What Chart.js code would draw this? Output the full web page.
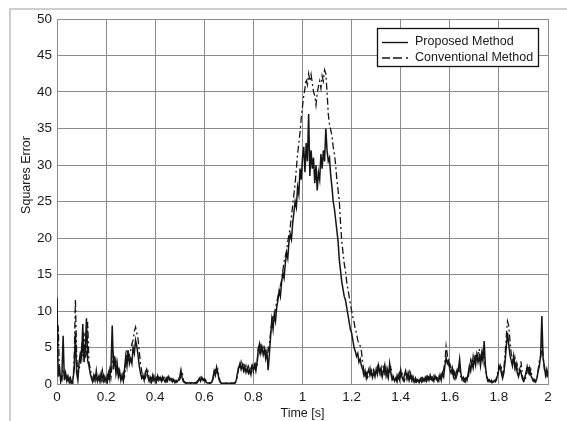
<!DOCTYPE html>
<html>
<head>
<meta charset="utf-8">
<script src="https://cdn.jsdelivr.net/npm/chart.js@4.4.1/dist/chart.umd.min.js"></script>
<style>
  html, body { margin: 0; padding: 0; background: #fff; overflow: hidden; }
  #moldura {
    position: absolute; left: 9px; top: 8px; width: 700px; height: 600px;
    border: 2px solid #cfcfcf;
  }
  #grafico { position: absolute; left: 0; top: 0; }
</style>
</head>
<body>
<div id="moldura"></div>
<canvas id="grafico" width="567" height="421"></canvas>
<script>
// amostragem do erro quadratico (passo de 5 ms, de 0 a 2 s)
const tempoInicial = 0;
const passo = 0.005;

const metodoProposto = [
  11.8, 1.0, 2.5, 0.3, 1.2, 6.6, 0.5, 1.5, 0.4, 1.0, 0.2, 0.8, 0.1, 0.6, 2.0, 7.0, 1.5, 0.5, 3.0, 4.2,
  3.5, 8.2, 3.0, 4.5, 9.0, 3.2, 2.5, 1.5, 0.8, 0.3, 1.2, 0.5, 1.8, 0.4, 1.0, 0.3, 1.5, 0.6, 1.2, 0.4,
  0.8, 0.3, 1.5, 0.6, 2.5, 8.0, 2.0, 3.8, 1.5, 2.8, 1.0, 1.8, 0.5, 1.2, 0.4, 2.0, 3.8, 2.5, 4.6, 2.8,
  3.5, 2.8, 5.0, 4.2, 6.0, 5.2, 4.0, 2.5, 1.5, 0.8, 1.2, 0.5, 1.6, 2.0, 1.0, 0.4, 0.9, 0.3, 1.2, 0.5,
  0.8, 0.3, 1.1, 0.5, 0.9, 0.4, 1.0, 0.6, 0.3, 0.8, 0.4, 1.0, 0.5, 0.7, 0.3, 0.6, 0.2, 0.5, 0.3, 0.6,
  1.0, 1.9, 0.8, 0.3, 0.2, 0.1, 0.2, 0.1, 0.2, 0.1, 0.2, 0.1, 0.2, 0.1, 0.3, 0.5, 0.8, 0.4, 0.9, 0.5,
  0.7, 0.3, 0.2, 0.1, 0.2, 0.1, 0.2, 0.8, 1.8, 1.2, 2.3, 1.5, 0.6, 0.2, 0.1, 0.1, 0.1, 0.1, 0.1, 0.1,
  0.1, 0.1, 0.1, 0.1, 0.1, 0.2, 0.5, 1.5, 2.2, 2.8, 2.0, 2.6, 1.8, 2.4, 1.6, 2.2, 1.5, 2.0, 1.3, 2.4,
  2.0, 2.6, 1.8, 3.0, 4.8, 5.5, 4.2, 5.0, 4.0, 4.8, 3.5, 4.4, 1.9, 4.0, 6.5, 8.8, 7.5, 9.5, 8.6, 10.5,
  11.5, 12.8, 12.0, 14.0, 15.2, 14.5, 16.5, 18.0, 17.2, 19.5, 20.5, 19.8, 22.0, 23.5, 25.0, 24.2, 27.0, 26.0, 29.5, 28.0,
  31.0, 32.5, 29.0, 33.0, 30.5, 37.0, 28.5, 32.0, 29.5, 31.0, 27.5, 30.0, 26.5, 29.0, 28.0, 31.5, 29.5, 32.0, 30.5, 35.0,
  32.0, 30.5, 31.0, 28.5, 27.0, 25.0, 24.0, 22.5, 21.0, 19.5, 17.0, 15.5, 14.0, 13.0, 12.0, 11.5, 10.5, 9.5, 8.5, 7.5,
  7.0, 6.0, 5.0, 4.5, 3.8, 4.2, 3.0, 3.4, 2.5, 2.0, 1.2, 1.8, 0.8, 1.5, 2.0, 1.2, 1.8, 0.9, 1.6, 1.0,
  2.0, 1.3, 2.5, 1.5, 2.2, 1.0, 1.8, 2.6, 1.2, 2.0, 1.0, 2.8, 1.5, 0.6, 1.0, 0.4, 0.8, 0.3, 1.2, 0.6,
  1.9, 1.0, 0.5, 1.2, 1.8, 0.8, 1.5, 0.6, 1.4, 0.5, 1.0, 0.3, 0.8, 0.3, 0.6, 0.2, 0.7, 0.3, 0.8, 0.4,
  0.9, 0.4, 1.0, 0.5, 1.2, 0.6, 0.9, 0.4, 1.1, 0.6, 0.8, 0.4, 1.2, 0.5, 1.5, 1.0, 2.5, 3.6, 2.8, 3.2,
  2.0, 1.5, 2.2, 1.0, 1.6, 0.8, 1.4, 2.0, 3.4, 1.5, 0.6, 0.9, 0.4, 0.8, 0.5, 1.5, 2.5, 1.8, 3.0, 2.2,
  3.5, 2.6, 4.0, 3.0, 3.8, 2.5, 4.2, 3.2, 5.9, 2.5, 1.0, 0.4, 0.6, 0.3, 0.5, 0.2, 0.4, 0.3, 0.8, 1.2,
  2.0, 2.5, 1.5, 0.8, 1.5, 3.0, 5.0, 7.0, 5.5, 4.0, 3.2, 2.5, 3.8, 2.2, 2.8, 1.5, 1.0, 2.0, 1.6, 0.8,
  0.4, 0.8, 1.5, 2.4, 1.6, 2.2, 1.2, 0.8, 0.4, 0.6, 0.3, 0.8, 1.8, 2.5, 4.0, 9.3, 3.5, 2.5, 1.2, 2.0, 1.0
];

const metodoConvencional = [
  3.0, 8.0, 1.5, 0.8, 0.5, 2.0, 1.2, 0.6, 1.4, 0.3, 0.8, 0.2, 0.4, 0.1, 3.5, 11.6, 4.0, 1.0, 2.2, 2.5,
  5.0, 3.8, 7.0, 3.5, 4.2, 8.5, 3.0, 2.2, 1.2, 0.6, 0.4, 1.5, 0.6, 1.0, 0.3, 1.2, 0.5, 1.8, 0.4, 1.0,
  0.3, 1.2, 0.5, 2.0, 1.0, 3.0, 4.0, 2.5, 3.2, 1.5, 2.0, 0.8, 1.2, 0.4, 1.5, 1.0, 2.5, 4.6, 3.0, 4.0,
  4.5, 5.5, 6.0, 7.2, 7.8, 7.0, 6.2, 4.5, 2.8, 1.8, 0.6, 1.0, 0.8, 1.6, 1.8, 0.8, 0.3, 1.0, 0.5, 1.1,
  0.3, 0.9, 0.6, 1.2, 0.4, 0.8, 0.5, 1.1, 0.6, 0.3, 0.9, 0.5, 0.8, 0.3, 0.7, 0.4, 0.6, 0.2, 0.5, 0.4,
  0.6, 1.2, 1.6, 0.5, 0.3, 0.2, 0.1, 0.2, 0.1, 0.1, 0.2, 0.1, 0.1, 0.2, 0.1, 0.4, 0.5, 0.9, 0.6, 0.8,
  0.4, 0.6, 0.2, 0.1, 0.1, 0.2, 0.1, 0.6, 1.4, 2.2, 1.6, 2.0, 1.0, 0.3, 0.1, 0.1, 0.1, 0.1, 0.1, 0.1,
  0.1, 0.1, 0.1, 0.1, 0.1, 0.1, 0.3, 1.0, 2.6, 2.0, 3.0, 2.3, 2.8, 1.9, 2.5, 1.8, 2.4, 1.6, 2.2, 2.6,
  1.6, 2.2, 2.8, 2.4, 5.2, 4.4, 5.6, 4.5, 5.0, 4.2, 4.6, 3.8, 4.5, 5.5, 7.0, 8.5, 9.5, 9.0, 10.4, 11.2,
  12.0, 12.6, 13.5, 14.2, 15.5, 16.8, 17.5, 18.2, 19.5, 20.5, 21.5, 23.0, 24.5, 26.0, 27.5, 29.5, 31.5, 33.0, 34.5, 36.5,
  38.0, 39.5, 40.5, 41.8, 41.0, 42.5, 41.5, 42.4, 41.2, 40.0, 39.5, 38.2, 39.8, 40.8, 41.5, 40.5, 42.2, 41.5, 43.0, 42.5,
  40.0, 37.0, 35.5, 34.8, 34.0, 32.5, 31.5, 30.0, 28.0, 26.5, 25.0, 22.0, 19.5, 18.0, 16.5, 15.5, 14.0, 13.0, 12.0, 11.0,
  10.0, 9.2, 8.5, 7.5, 7.0, 6.0, 5.5, 5.2, 4.5, 3.0, 1.8, 1.0, 1.5, 0.9, 1.4, 2.2, 1.0, 1.6, 2.0, 1.2,
  1.5, 2.4, 1.6, 2.0, 1.2, 1.8, 2.6, 1.5, 2.2, 1.0, 1.8, 1.4, 2.5, 1.0, 0.5, 0.8, 0.3, 1.2, 0.6, 1.5,
  1.0, 1.6, 0.8, 0.4, 1.2, 1.5, 0.6, 1.6, 0.8, 1.1, 0.4, 0.8, 0.3, 0.6, 0.2, 0.5, 0.3, 0.8, 0.4, 0.9,
  0.5, 1.0, 0.6, 1.2, 0.4, 0.9, 0.5, 1.1, 0.6, 0.9, 0.4, 1.0, 0.5, 1.3, 0.8, 2.0, 3.0, 5.2, 4.0, 2.6,
  2.8, 2.2, 1.2, 1.8, 0.8, 1.4, 2.0, 1.5, 2.4, 1.0, 0.8, 0.4, 0.7, 0.3, 1.0, 0.8, 2.0, 3.2, 2.2, 3.8,
  2.8, 4.0, 3.2, 4.2, 4.8, 3.5, 3.0, 4.5, 3.8, 2.0, 1.2, 0.6, 0.3, 0.5, 0.2, 0.4, 0.2, 0.6, 0.5, 1.5,
  2.5, 1.8, 2.2, 1.0, 2.0, 4.0, 6.5, 8.6, 8.0, 6.0, 4.2, 3.5, 2.8, 3.6, 2.0, 2.6, 1.2, 1.5, 3.1, 1.2,
  0.6, 0.3, 1.0, 1.8, 2.5, 1.4, 2.0, 1.0, 0.6, 0.3, 0.5, 0.6, 2.0, 3.2, 3.5, 5.2, 4.0, 2.0, 1.5, 0.8, 1.8
];

const nomesSeries = ['Proposed Method', 'Conventional Method'];
const tituloX = 'Time [s]';
const tituloY = 'Squares Error';
const limitesX = [0, 2];
const limitesY = [0, 50];

const fonte = 'Arial, "Liberation Sans", sans-serif';
const corLinha = '#151515';
const tracejado = [7, 3, 2, 3];

function pontos(valores) {
  return valores.map((v, i) => ({ x: tempoInicial + i * passo, y: v }));
}

// titulo do eixo y e caixa de legenda desenhados à mão
const extras = {
  id: 'extras',
  afterDraw(chart) {
    const ctx = chart.ctx;
    ctx.save();
    ctx.fillStyle = '#1a1a1a';
    ctx.font = '12.5px ' + fonte;
    ctx.textAlign = 'center';
    ctx.textBaseline = 'middle';
    ctx.translate(27, 175);
    ctx.rotate(-Math.PI / 2);
    ctx.fillText(tituloY, 0, 0);
    ctx.restore();

    // legenda
    ctx.save();
    ctx.fillStyle = '#fff';
    ctx.fillRect(377, 28, 162, 39);
    ctx.strokeStyle = '#111';
    ctx.lineWidth = 1.3;
    ctx.strokeRect(377.5, 28.5, 161, 38);
    ctx.strokeStyle = corLinha;
    ctx.lineWidth = 1.4;
    ctx.beginPath();
    ctx.moveTo(382, 42.5);
    ctx.lineTo(408, 42.5);
    ctx.stroke();
    ctx.setLineDash([8, 3, 9, 4, 2, 20]);
    ctx.beginPath();
    ctx.moveTo(382, 58);
    ctx.lineTo(408, 58);
    ctx.stroke();
    ctx.setLineDash([]);
    ctx.fillStyle = '#1a1a1a';
    ctx.font = '12.5px ' + fonte;
    ctx.textAlign = 'left';
    ctx.textBaseline = 'middle';
    ctx.fillText(nomesSeries[0], 415, 41.5);
    ctx.fillText(nomesSeries[1], 415, 57.5);
    ctx.restore();
  }
};

const ctx = document.getElementById('grafico').getContext('2d');
new Chart(ctx, {
  type: 'line',
  data: {
    datasets: [
      {
        label: nomesSeries[1],
        data: pontos(metodoConvencional),
        borderColor: corLinha,
        borderWidth: 1.3,
        borderDash: tracejado,
        pointRadius: 0,
        tension: 0,
        fill: false
      },
      {
        label: nomesSeries[0],
        data: pontos(metodoProposto),
        borderColor: corLinha,
        borderWidth: 1.5,
        pointRadius: 0,
        tension: 0,
        fill: false
      }
    ]
  },
  options: {
    responsive: false,
    animation: false,
    events: [],
    layout: { padding: { left: 0, top: 19, right: 19, bottom: 0 } },
    plugins: {
      legend: { display: false },
      tooltip: { enabled: false }
    },
    scales: {
      x: {
        type: 'linear',
        min: limitesX[0],
        max: limitesX[1],
        afterFit(scale) { scale.height = 37; },
        ticks: {
          stepSize: 0.2,
          padding: 5,
          color: '#1a1a1a',
          font: { family: fonte, size: 13.5 },
          maxRotation: 0,
          callback: v => String(Number(v.toFixed(1)))
        },
        grid: { color: '#8c8c8c', lineWidth: 1, drawTicks: false },
        border: { color: '#8c8c8c', width: 1 },
        title: {
          display: true,
          text: tituloX,
          color: '#1a1a1a',
          font: { family: fonte, size: 12.5 },
          padding: { top: 0, bottom: 0 }
        }
      },
      y: {
        min: limitesY[0],
        max: limitesY[1],
        afterFit(scale) { scale.width = 57; },
        ticks: {
          stepSize: 5,
          padding: 5,
          color: '#1a1a1a',
          font: { family: fonte, size: 13.5 }
        },
        grid: { color: '#8c8c8c', lineWidth: 1, drawTicks: false },
        border: { color: '#8c8c8c', width: 1 }
      }
    }
  },
  plugins: [extras]
});
</script>
</body>
</html>
